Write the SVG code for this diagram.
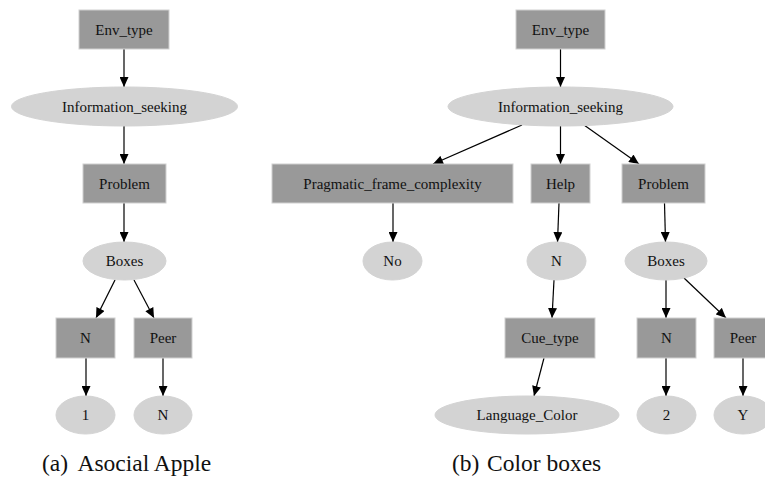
<svg xmlns="http://www.w3.org/2000/svg" width="765" height="483" viewBox="0 0 765 483">
<style>
.r{fill:#999999;stroke:#d0d0d0;stroke-width:1}
.e{fill:#d3d3d3;stroke:#d3d3d3;stroke-width:1}
.t{font-family:"Liberation Serif","Times New Roman",serif;font-size:15px;fill:#111;text-anchor:middle}
.c{font-family:"Liberation Serif","Times New Roman",serif;font-size:23.5px;fill:#111}
.edges line{stroke:#000;stroke-width:1.2;marker-end:url(#ah)}
</style>
<defs>
<marker id="ah" viewBox="0 0 10 9" refX="10" refY="4.5" markerWidth="10.5" markerHeight="9" markerUnits="userSpaceOnUse" orient="auto">
<path d="M0,0 L10,4.5 L0,9 z" fill="#000"/>
</marker>
</defs>
<rect width="765" height="483" fill="#fff"/>
<g class="edges">
<line x1="124" y1="49" x2="124" y2="87"/>
<line x1="124" y1="126" x2="124" y2="164"/>
<line x1="124" y1="203" x2="124" y2="242"/>
<line x1="115" y1="280" x2="96" y2="318"/>
<line x1="134" y1="280" x2="154" y2="318"/>
<line x1="86" y1="358" x2="86" y2="396"/>
<line x1="163" y1="358" x2="163" y2="396"/>
<line x1="560.5" y1="49" x2="560.5" y2="87"/>
<line x1="522" y1="125" x2="433" y2="164"/>
<line x1="560.5" y1="126" x2="560.5" y2="164"/>
<line x1="584" y1="125" x2="639" y2="164"/>
<line x1="393" y1="203" x2="393" y2="242"/>
<line x1="559" y1="203" x2="557.5" y2="242"/>
<line x1="664.5" y1="203" x2="665.5" y2="242"/>
<line x1="554" y1="280" x2="552" y2="318"/>
<line x1="544" y1="358" x2="534" y2="396"/>
<line x1="666" y1="280" x2="666" y2="318"/>
<line x1="684" y1="278" x2="726" y2="318"/>
<line x1="666" y1="358" x2="666" y2="396"/>
<line x1="743" y1="358" x2="743" y2="396"/>
</g>
<g id="a_env"><rect class="r" x="79" y="10" width="90" height="39"/><text class="t" x="124" y="35">Env_type</text></g>
<g id="a_info"><ellipse class="e" cx="124.5" cy="106.5" rx="113" ry="19.5"/><text class="t" x="124.5" y="112">Information_seeking</text></g>
<g id="a_problem"><rect class="r" x="83" y="164" width="83" height="39"/><text class="t" x="124.5" y="189">Problem</text></g>
<g id="a_boxes"><ellipse class="e" cx="124.5" cy="261" rx="41.5" ry="19"/><text class="t" x="124.5" y="266">Boxes</text></g>
<g id="a_n"><rect class="r" x="56" y="318" width="59" height="40"/><text class="t" x="85.5" y="343">N</text></g>
<g id="a_peer"><rect class="r" x="134" y="318" width="58" height="40"/><text class="t" x="163" y="343">Peer</text></g>
<g id="a_1"><ellipse class="e" cx="85.5" cy="415" rx="29.5" ry="19"/><text class="t" x="85.5" y="420">1</text></g>
<g id="a_nv"><ellipse class="e" cx="163" cy="415" rx="29" ry="19"/><text class="t" x="163" y="420">N</text></g>
<g id="b_env"><rect class="r" x="516" y="10" width="89" height="39"/><text class="t" x="560.5" y="35">Env_type</text></g>
<g id="b_info"><ellipse class="e" cx="560.5" cy="106.5" rx="112.5" ry="19.5"/><text class="t" x="560.5" y="112">Information_seeking</text></g>
<g id="b_pfc"><rect class="r" x="272" y="164" width="241" height="39"/><text class="t" x="392.5" y="189">Pragmatic_frame_complexity</text></g>
<g id="b_help"><rect class="r" x="531" y="164" width="59" height="39"/><text class="t" x="560.5" y="189">Help</text></g>
<g id="b_problem"><rect class="r" x="622" y="164" width="83" height="39"/><text class="t" x="663.5" y="189">Problem</text></g>
<g id="b_no"><ellipse class="e" cx="392.5" cy="261" rx="29.5" ry="19"/><text class="t" x="392.5" y="266">No</text></g>
<g id="b_n"><ellipse class="e" cx="556.5" cy="261" rx="29.5" ry="19"/><text class="t" x="556.5" y="266">N</text></g>
<g id="b_boxes"><ellipse class="e" cx="666" cy="261" rx="41" ry="19"/><text class="t" x="666" y="266">Boxes</text></g>
<g id="b_cue"><rect class="r" x="505" y="318" width="90" height="40"/><text class="t" x="550" y="343">Cue_type</text></g>
<g id="b_bn"><rect class="r" x="637" y="318" width="59" height="40"/><text class="t" x="666.5" y="343">N</text></g>
<g id="b_peer"><rect class="r" x="714" y="318" width="58" height="40"/><text class="t" x="743" y="343">Peer</text></g>
<g id="b_lang"><ellipse class="e" cx="527" cy="415" rx="92" ry="19"/><text class="t" x="527" y="420">Language_Color</text></g>
<g id="b_2"><ellipse class="e" cx="666.5" cy="415" rx="29.5" ry="19"/><text class="t" x="666.5" y="420">2</text></g>
<g id="b_y"><ellipse class="e" cx="743" cy="415" rx="29" ry="19"/><text class="t" x="743" y="420">Y</text></g>
<g id="captions">
<text class="c" x="42" y="471">(a)</text><text class="c" x="77.5" y="471">Asocial Apple</text>
<text class="c" x="452" y="471">(b)</text><text class="c" x="487" y="471">Color boxes</text>
</g>
</svg>
